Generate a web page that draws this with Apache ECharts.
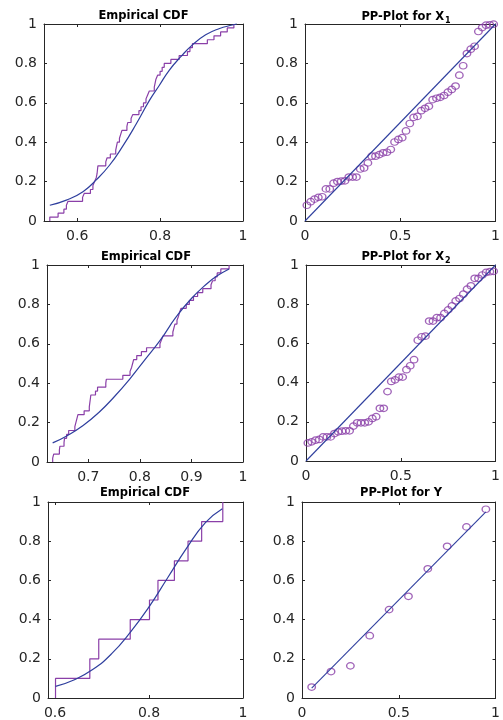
<!DOCTYPE html>
<html>
<head>
<meta charset="utf-8">
<script src="https://cdn.jsdelivr.net/npm/echarts@6/dist/echarts.min.js"></script>
<style>
html,body{margin:0;padding:0;background:#fff;}
#c{width:503px;height:720px;}
</style>
</head>
<body>
<div id="c"></div>
<script>
// ---------- data ----------
const levels50 = [0.02,0.04,0.06,0.08,0.10,0.12,0.14,0.16,0.18,0.20,
  0.22,0.24,0.26,0.28,0.30,0.32,0.34,0.36,0.38,0.40,
  0.42,0.44,0.46,0.48,0.50,0.52,0.54,0.56,0.58,0.60,
  0.62,0.64,0.66,0.68,0.70,0.72,0.74,0.76,0.78,0.80,
  0.82,0.84,0.86,0.88,0.90,0.92,0.94,0.96,0.98,1.00];
const levels10 = [0.1,0.2,0.3,0.4,0.5,0.6,0.7,0.8,0.9,1.0];

// Empirical CDF of X1: jump locations
const ecdfX1 = [0.534,0.554,0.568,0.574,0.578,0.613,0.617,0.632,0.638,0.642,
  0.646,0.648,0.649,0.650,0.669,0.672,0.680,0.693,0.695,0.697,
  0.702,0.705,0.708,0.720,0.722,0.730,0.734,0.749,0.754,0.760,
  0.766,0.770,0.774,0.786,0.788,0.790,0.794,0.800,0.805,0.810,
  0.826,0.846,0.866,0.872,0.878,0.914,0.930,0.946,0.962,0.978];
// fitted CDF of X1
const cdfX1x = [0.534,0.574,0.614,0.646,0.678,0.710,0.742,0.774,0.798,0.822,0.850,0.878,0.910,0.942,0.974,0.985];
const cdfX1y = [0.080,0.106,0.149,0.209,0.283,0.380,0.491,0.611,0.688,0.765,0.834,0.894,0.945,0.976,0.995,1.000];

// Empirical CDF of X2
const ecdfX2 = [0.631,0.633,0.644,0.645,0.653,0.654,0.658,0.662,0.674,0.676,
  0.678,0.680,0.692,0.702,0.703,0.704,0.705,0.714,0.718,0.734,
  0.735,0.767,0.781,0.784,0.786,0.788,0.794,0.803,0.813,0.839,
  0.842,0.845,0.864,0.866,0.868,0.872,0.875,0.877,0.880,0.890,
  0.896,0.904,0.912,0.922,0.938,0.941,0.946,0.950,0.957,0.973];
const cdfX2x = [0.631,0.660,0.690,0.720,0.750,0.780,0.810,0.840,0.870,0.900,0.930,0.950,0.973];
const cdfX2y = [0.097,0.135,0.185,0.250,0.330,0.420,0.520,0.620,0.735,0.830,0.905,0.945,0.980];

// Empirical CDF of Y
const ecdfY = [0.601,0.674,0.693,0.760,0.801,0.819,0.854,0.883,0.912,0.957];
const cdfYx = [0.601,0.640,0.680,0.720,0.760,0.800,0.840,0.880,0.920,0.956];
const cdfYy = [0.059,0.092,0.145,0.225,0.335,0.465,0.615,0.765,0.895,0.966];

// PP plots
const ppX50 = [0.01,0.03,0.05,0.07,0.09,0.11,0.13,0.15,0.17,0.19,
  0.21,0.23,0.25,0.27,0.29,0.31,0.33,0.35,0.37,0.39,
  0.41,0.43,0.45,0.47,0.49,0.51,0.53,0.55,0.57,0.59,
  0.61,0.63,0.65,0.67,0.69,0.71,0.73,0.75,0.77,0.79,
  0.81,0.83,0.85,0.87,0.89,0.91,0.93,0.95,0.97,0.99];
const ppX1 = [0.080,0.098,0.111,0.120,0.123,0.163,0.163,0.192,0.200,0.202,
  0.204,0.223,0.223,0.223,0.264,0.269,0.295,0.329,0.329,0.337,
  0.346,0.349,0.363,0.401,0.414,0.423,0.457,0.495,0.526,0.531,
  0.560,0.572,0.582,0.616,0.623,0.628,0.637,0.654,0.668,0.685,
  0.740,0.788,0.850,0.872,0.887,0.962,0.982,0.994,0.996,0.999];
const ppX2 = [0.092,0.098,0.106,0.110,0.123,0.123,0.123,0.140,0.149,0.152,
  0.154,0.154,0.178,0.195,0.195,0.195,0.200,0.217,0.226,0.269,
  0.269,0.354,0.406,0.414,0.428,0.428,0.466,0.486,0.517,0.616,
  0.634,0.637,0.714,0.714,0.731,0.731,0.753,0.771,0.791,0.817,
  0.829,0.851,0.877,0.894,0.932,0.932,0.949,0.962,0.966,0.968];
const ppX10 = [0.05,0.15,0.25,0.35,0.45,0.55,0.65,0.75,0.85,0.95];
const ppY = [0.056,0.135,0.164,0.318,0.451,0.519,0.659,0.774,0.873,0.963];
const refLineFull = [0, 1];
const refLineY = [0.05, 0.95];

// tick labels
const ticksX1 = [0.6, 0.8, 1];
const ticksX2 = [0.7, 0.8, 0.9, 1];
const ticksY = [0.6, 0.8, 1];
const ticksPP = [0, 0.5, 1];

// ---------- styling / layout ----------
const PURPLE = '#8a3fa8';
const BLUE = '#2f3f9e';
const AX = '#262626';
const FONT = 'DejaVu Sans';

const panels = [
  {grid:{left:44, top:24, width:199, height:197}, xr:[0.52,1], ticks:ticksX1, title:'{a|Empirical CDF}', tc:[143.5,16.5], kind:'ecdf', ex:ecdfX1, ey:levels50, cx:cdfX1x, cy:cdfX1y},
  {grid:{left:305, top:24, width:200, height:197}, xr:[0,1], ticks:ticksPP, title:'{a|PP-Plot for X}{s|1}', tc:[406,17], kind:'pp', px:ppX50, py:ppX1, ref:refLineFull},
  {grid:{left:47, top:265, width:196, height:197}, xr:[0.62,1], ticks:ticksX2, title:'{a|Empirical CDF}', tc:[146,257], kind:'ecdf', ex:ecdfX2, ey:levels50, cx:cdfX2x, cy:cdfX2y},
  {grid:{left:306, top:265, width:199, height:196}, xr:[0,1], ticks:ticksPP, title:'{a|PP-Plot for X}{s|2}', tc:[406,257], kind:'pp', px:ppX50, py:ppX2, ref:refLineFull},
  {grid:{left:48, top:502, width:195, height:198}, xr:[0.585,1], ticks:ticksY, title:'{a|Empirical CDF}', tc:[145,493], kind:'ecdf', ex:ecdfY, ey:levels10, cx:cdfYx, cy:cdfYy},
  {grid:{left:302, top:502, width:194, height:199}, xr:[0,1], ticks:ticksPP, title:'{a|PP-Plot for Y}', tc:[401,493.5], kind:'pp', px:ppX10, py:ppY, ref:refLineY}
];

const grids = [], xAxes = [], yAxes = [], series = [], titles = [];
const lineStyleAx = {color: AX, width: 1};
const labelStyle = {fontFamily: FONT, fontSize: 14, color: AX};
const titleRich = {
  a: {fontFamily: FONT, fontWeight: 'bold', fontSize: 11.5, color: '#000'},
  s: {fontFamily: FONT, fontWeight: 'bold', fontSize: 8, color: '#000', padding: [7, 0, 0, 1], verticalAlign: 'bottom'}
};

panels.forEach((p, i) => {
  grids.push(Object.assign({containLabel: false}, p.grid));
  const xb = {
    type: 'value', gridIndex: i, min: p.xr[0], max: p.xr[1],
    axisLine: {show: true, onZero: false, lineStyle: lineStyleAx},
    axisTick: {show: true, inside: true, length: 3, customValues: p.ticks, lineStyle: lineStyleAx},
    axisLabel: {show: true, customValues: p.ticks, margin: 8, ...labelStyle},
    splitLine: {show: false}
  };
  xAxes.push(Object.assign({position: 'bottom'}, xb));
  xAxes.push(Object.assign({}, xb, {position: 'top', axisLabel: {show: false}}));
  const yb = {
    type: 'value', gridIndex: i, min: 0, max: 1, interval: 0.2,
    axisLine: {show: true, onZero: false, lineStyle: lineStyleAx},
    axisTick: {show: true, inside: true, length: 3, lineStyle: lineStyleAx},
    axisLabel: {show: true, margin: 7, ...labelStyle},
    splitLine: {show: false}
  };
  yAxes.push(Object.assign({position: 'left'}, yb));
  yAxes.push(Object.assign({}, yb, {position: 'right', axisLabel: {show: false}}));

  titles.push({
    text: p.title, left: p.tc[0], top: p.tc[1], textAlign: 'center', textVerticalAlign: 'middle',
    padding: 0, textStyle: {rich: titleRich}
  });

  const xi = 2 * i, yi = 2 * i;
  if (p.kind === 'ecdf') {
    const pts = [[p.ex[0], 0]];
    p.ex.forEach((x, k) => pts.push([x, p.ey[k]]));
    series.push({type: 'line', xAxisIndex: xi, yAxisIndex: yi, data: pts, step: 'end',
      symbol: 'none', clip: false, lineStyle: {color: PURPLE, width: 1.2}, z: 2});
    series.push({type: 'line', xAxisIndex: xi, yAxisIndex: yi,
      data: p.cx.map((x, k) => [x, p.cy[k]]), smooth: 0.5,
      symbol: 'none', clip: false, lineStyle: {color: BLUE, width: 1.2}, z: 3});
  } else {
    series.push({type: 'scatter', xAxisIndex: xi, yAxisIndex: yi,
      data: p.px.map((x, k) => [x, p.py[k]]), symbol: 'circle', symbolSize: [7.5, 6.5], clip: false,
      itemStyle: {color: 'rgba(255,255,255,0)', borderColor: PURPLE, borderWidth: 1.3}, z: 2});
    series.push({type: 'line', xAxisIndex: xi, yAxisIndex: yi,
      data: [[p.ref[0], p.ref[0]], [p.ref[1], p.ref[1]]],
      symbol: 'none', clip: false, lineStyle: {color: BLUE, width: 1.1}, z: 3});
  }
});

const chart = echarts.init(document.getElementById('c'), null, {renderer: 'canvas'});
chart.setOption({
  animation: false,
  backgroundColor: '#fff',
  title: titles,
  grid: grids,
  xAxis: xAxes,
  yAxis: yAxes,
  series: series
});
</script>
</body>
</html>
